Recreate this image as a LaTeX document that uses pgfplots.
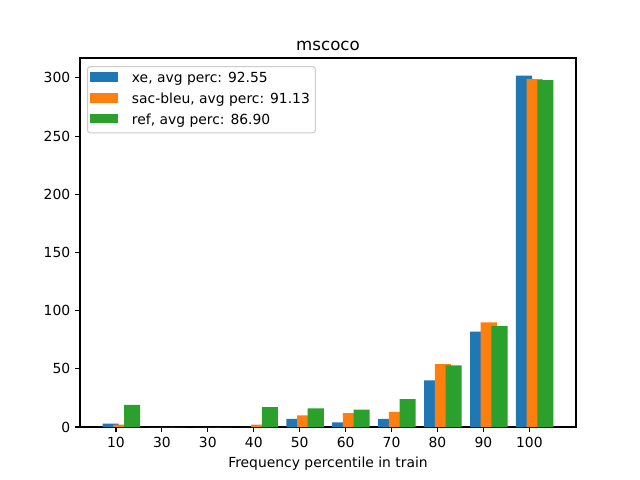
\documentclass[border=0pt]{standalone}
\usepackage{fontspec}
\setmainfont{DejaVu Sans}
\usepackage{pgfplots}
\pgfplotsset{compat=1.18}
\definecolor{cA}{HTML}{1F77B4}
\definecolor{cB}{HTML}{FF7F0E}
\definecolor{cC}{HTML}{2CA02C}
\begin{document}
\begin{tikzpicture}
\path (0,0) rectangle (460.8pt,345.6pt);
\begin{axis}[
  at={(57.6pt,38.16pt)}, anchor=south west,
  scale only axis, width=357.12pt, height=265.68pt,
  xmin=-0.783, xmax=10.016, ymin=0, ymax=317.1,
  ybar, bar width=0.35,
  axis line style={line width=0.8pt},
  tick align=outside, tick pos=left,
  major tick length=3.5pt,
  every tick/.style={black, line width=0.8pt},
  xtick={0,...,9},
  xticklabels={10,30,30,40,50,60,70,80,90,100},
  ytick={0,50,100,150,200,250,300},
  /pgf/number format/assume math mode=true,
  tick label style={font=\fontsize{10}{12}\selectfont},
  label style={font=\fontsize{10}{12}\selectfont},
  xlabel={Frequency percentile in train},
  title={mscoco},
  title style={at={(0.5,1)}, anchor=base, yshift=-0.5pt, font=\fontsize{12}{14}\selectfont},
  legend cell align=left,
  legend style={at={(0,1)}, anchor=north west, xshift=5pt, yshift=-5.8pt,
    draw=white!80!black, rounded corners=2pt, line width=0.8pt,
    font=\fontsize{10}{12}\selectfont, inner xsep=2pt, inner ysep=1.2pt,
    column sep=8pt,
    nodes={text height=7.8pt, text depth=1.7pt, inner ysep=2.8pt}},
  legend image code/.code={\fill[#1, draw=none, sharp corners] (0pt,-2pt) rectangle (20pt,5pt);},
]
\addplot[fill=cA, draw=none, bar shift=-0.11667] coordinates {(0,3) (1,0) (2,0) (3,0) (4,7) (5,4) (6,7) (7,40) (8,82) (9,302)};
\addlegendentry{xe, avg perc: 92.55}
\addplot[fill=cB, draw=none, bar shift=0.11667] coordinates {(0,2) (1,0) (2,0) (3,2) (4,10) (5,12) (6,13) (7,54) (8,90) (9,299)};
\addlegendentry{sac-bleu, avg perc: 91.13}
\addplot[fill=cC, draw=none, bar shift=0.35] coordinates {(0,19) (1,0) (2,0) (3,17) (4,16) (5,15) (6,24) (7,53) (8,87) (9,298)};
\addlegendentry{ref, avg perc: 86.90}
\end{axis}
\end{tikzpicture}
\end{document}
